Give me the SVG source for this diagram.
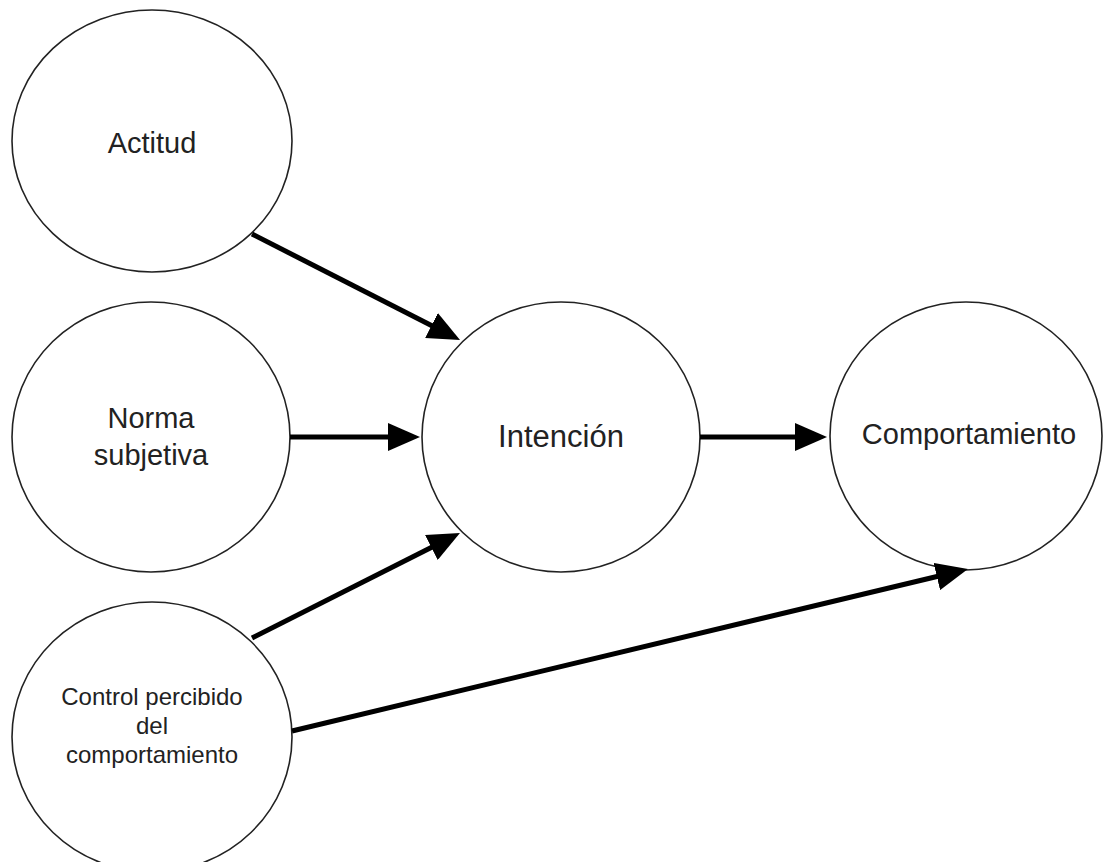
<svg xmlns="http://www.w3.org/2000/svg" width="1104" height="862" viewBox="0 0 1104 862">
<style>
.node{fill:#fff;stroke:#222;stroke-width:1.6}
.lbl{font-family:"Liberation Sans",Arial,sans-serif;fill:#222;text-anchor:middle}
.edge{stroke:#000;stroke-width:5;fill:none;marker-end:url(#ah)}
</style>
<defs>
<marker id="ah" viewBox="0 0 32 28" markerWidth="32" markerHeight="28" markerUnits="userSpaceOnUse" refX="12" refY="14" orient="auto">
<path d="M0,0 L32,14 L0,28 Z" fill="#000"/>
</marker>
</defs>
<rect width="1104" height="862" fill="#fff"/>
<g id="actitud">
<ellipse class="node" cx="152" cy="141" rx="140" ry="131"/>
<text class="lbl" x="152" y="153" font-size="29">Actitud</text>
</g>
<g id="norma">
<ellipse class="node" cx="151" cy="437" rx="139" ry="135"/>
<text class="lbl" x="151" y="428" font-size="29">Norma</text>
<text class="lbl" x="151" y="465" font-size="29">subjetiva</text>
</g>
<g id="control">
<ellipse class="node" cx="152" cy="737" rx="140" ry="135"/>
<text class="lbl" x="152" y="705" font-size="24">Control percibido</text>
<text class="lbl" x="152" y="734" font-size="24">del</text>
<text class="lbl" x="152" y="763" font-size="24">comportamiento</text>
</g>
<g id="intencion">
<ellipse class="node" cx="561" cy="437" rx="139" ry="135"/>
<text class="lbl" x="561" y="447" font-size="31">Intención</text>
</g>
<g id="comportamiento">
<ellipse class="node" cx="966" cy="436" rx="136" ry="134"/>
<text class="lbl" x="969" y="444" font-size="29">Comportamiento</text>
</g>
<g id="connectors">
<line class="edge" x1="252" y1="234" x2="442.2" y2="330.9"/>
<line class="edge" x1="290" y1="437" x2="400" y2="437"/>
<line class="edge" x1="252" y1="638" x2="442.1" y2="542"/>
<line class="edge" x1="700" y1="437" x2="807" y2="437"/>
<line class="edge" x1="292" y1="731" x2="948.5" y2="573.7"/>
</g>
</svg>
